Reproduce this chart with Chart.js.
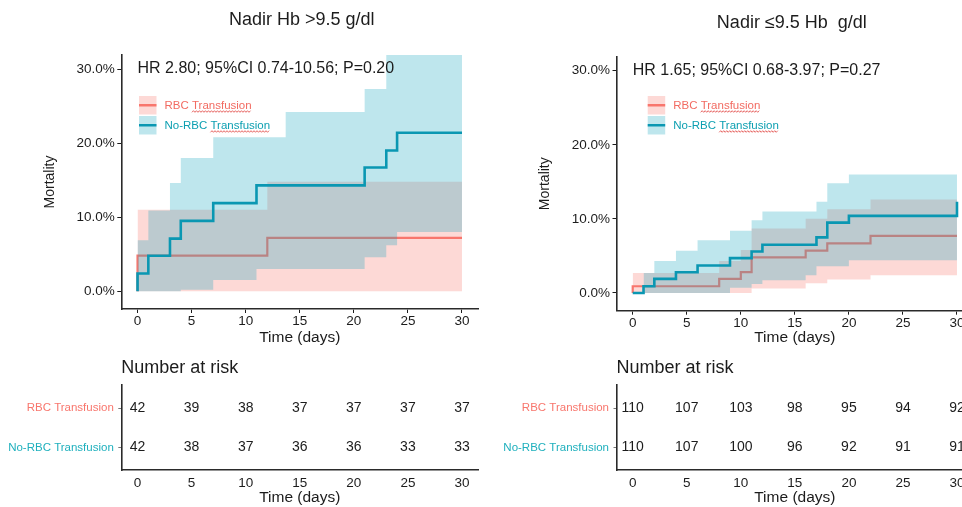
<!DOCTYPE html>
<html>
<head>
<meta charset="utf-8">
<title>Mortality by RBC transfusion and nadir Hb</title>
<script src="https://cdn.jsdelivr.net/npm/chart.js@4.4.1/dist/chart.umd.min.js"></script>
<style>
  html, body { margin: 0; padding: 0; background: #fff; overflow: hidden; }
  body { width: 962px; height: 507px; position: relative; }
  canvas { position: absolute; }
</style>
</head>
<body>
<canvas id="kmHigh" width="480" height="350" style="left:0;top:0"></canvas>
<canvas id="kmLow" width="500" height="350" style="left:480px;top:0"></canvas>
<canvas id="riskHigh" width="480" height="157" style="left:0;top:350px"></canvas>
<canvas id="riskLow" width="500" height="157" style="left:480px;top:350px"></canvas>
<script>
// Groups, axis ticks and risk-table days
const groups = ['RBC Transfusion', 'No-RBC Transfusion'];
const dayTicks = [0, 5, 10, 15, 20, 25, 30];
const mortalityTicks = [0, 10, 20, 30];
const riskDays = [0, 5, 10, 15, 20, 25, 30];

// Nadir Hb > 9.5 g/dl : cumulative mortality (%) step curves and 95% bands
const hiRbcDays = [0, 0, 12, 30];
const hiRbcMort = [0, 4.8, 7.2, 7.2];
const hiRbcUpperDays = [0, 12, 30];
const hiRbcUpper = [11.0, 14.8, 14.8];
const hiRbcLowerDays = [0, 30];
const hiRbcLower = [0, 0];

const hiNoRbcDays = [0, 0, 1, 3, 4, 7, 11, 21, 23, 24, 30];
const hiNoRbcMort = [0, 2.4, 4.8, 7.1, 9.5, 11.9, 14.3, 16.7, 19.0, 21.4, 21.4];
const hiNoRbcUpperDays = [0, 1, 3, 4, 7, 13.7, 21, 23, 30];
const hiNoRbcUpper = [6.9, 10.9, 14.6, 18.0, 20.8, 24.2, 27.3, 32.0, 32.0];
const hiNoRbcLowerDays = [0, 4, 7, 11, 21, 23, 24, 30];
const hiNoRbcLower = [0, 0.2, 1.5, 3.0, 4.6, 6.2, 8.0, 8.0];

const hiRbcRisk = [42, 39, 38, 37, 37, 37, 37];
const hiNoRbcRisk = [42, 38, 37, 36, 36, 33, 33];

// Nadir Hb <= 9.5 g/dl
const loRbcDays = [0, 0, 8, 10, 11, 16, 18, 22, 30];
const loRbcMort = [0, 0.9, 1.9, 2.8, 4.8, 5.7, 6.7, 7.7, 7.7];
const loRbcUpperDays = [0, 8, 10, 11, 16, 18, 22, 30];
const loRbcUpper = [2.7, 4.3, 5.8, 8.7, 10.0, 11.3, 12.6, 12.6];
const loRbcLowerDays = [0, 11, 16, 18, 22, 30];
const loRbcLower = [0, 0.6, 1.3, 1.8, 2.4, 2.4];

const loNoRbcDays = [0, 1, 2, 4, 6, 9, 11, 12, 17, 18, 20, 30];
const loNoRbcMort = [0, 0.9, 1.9, 2.8, 3.7, 4.7, 5.6, 6.5, 7.5, 9.5, 10.4, 12.3];
const loNoRbcUpperDays = [1, 2, 4, 6, 9, 11, 12, 17, 18, 20, 30];
const loNoRbcUpper = [2.7, 4.3, 5.7, 7.1, 8.4, 9.8, 11.0, 12.3, 14.8, 16.0, 16.0];
const loNoRbcLowerDays = [1, 9, 11, 12, 16, 17, 20, 30];
const loNoRbcLower = [0, 0.7, 1.2, 1.7, 2.4, 3.6, 4.4, 4.4];

const loRbcRisk = [110, 107, 103, 98, 95, 94, 92];
const loNoRbcRisk = [110, 107, 100, 96, 92, 91, 91];

// styling
const FONT = '"Liberation Sans", Arial, Helvetica, sans-serif';
const INK = '#1c1c1c';
const RED = '#F8766D';
const TEAL = '#0a97b2';
const RED_BAND = 'rgba(248,118,109,0.28)';
const TEAL_BAND = 'rgba(20,165,190,0.28)';
const groupLabelColors = ['#F8766D', '#1fb0bd'];
const legendTextColors = ['#f26b62', '#0c9fb1'];

const steps = (days, vals) => days.map((d, i) => ({ x: d, y: vals[i] }));

// panel title, HR annotation and inset legend
const kmText = {
  id: 'kmText',
  afterDraw(chart, args, o) {
    const { ctx, chartArea: a, scales: { x, y } } = chart;
    ctx.save();
    ctx.fillStyle = INK;
    ctx.textBaseline = 'middle';
    ctx.font = '18px ' + FONT;
    ctx.textAlign = 'center';
    ctx.fillText(o.title, (a.left + a.right) / 2 + o.titleShift, a.top - o.titleGap);
    ctx.font = '16px ' + FONT;
    ctx.textAlign = 'left';
    ctx.fillText(o.hr, x.getPixelForValue(0), y.getPixelForValue(30));

    ctx.font = '11.5px ' + FONT;
    o.legend.forEach((item, i) => {
      const left = a.left + o.legendLeft;
      const top = a.top + o.legendTop + i * 20;
      ctx.fillStyle = item.band;
      ctx.fillRect(left, top, 17.5, 18.5);
      ctx.strokeStyle = item.line;
      ctx.lineWidth = 2.5;
      ctx.beginPath();
      ctx.moveTo(left, top + 9.25);
      ctx.lineTo(left + 17.5, top + 9.25);
      ctx.stroke();
      const tx = left + 25.5, ty = top + 9.5;
      ctx.fillStyle = item.text;
      ctx.fillText(item.label, tx, ty);
      // spell-check squiggle under "Transfusion"
      const word = 'Transfusion';
      const start = tx + ctx.measureText(item.label.slice(0, item.label.indexOf(word))).width;
      const end = start + ctx.measureText(word).width;
      ctx.strokeStyle = '#e0403c';
      ctx.lineWidth = 0.8;
      ctx.beginPath();
      let up = false;
      for (let sx = start; sx <= end; sx += 1.5) {
        const sy = ty + 6 + (up ? -0.8 : 0.8);
        sx === start ? ctx.moveTo(sx, sy) : ctx.lineTo(sx, sy);
        up = !up;
      }
      ctx.stroke();
    });
    ctx.restore();
  }
};

function kmChart(id, p) {
  const line = (days, vals, color, width) => ({
    data: steps(days, vals), borderColor: color, borderWidth: width,
    stepped: 'before', pointRadius: 0, fill: false
  });
  const band = (days, vals, color, fill) => ({
    data: steps(days, vals), borderColor: 'transparent', borderWidth: 0,
    backgroundColor: color, stepped: 'before', pointRadius: 0, fill: fill
  });
  return new Chart(document.getElementById(id), {
    type: 'line',
    data: {
      // first dataset is painted last (on top)
      datasets: [
        line(p.noDays, p.noMort, TEAL, 2.6),
        band(p.noUpperDays, p.noUpper, TEAL_BAND, '+1'),
        band(p.noLowerDays, p.noLower, TEAL_BAND, false),
        line(p.rbcDays, p.rbcMort, RED, 2.2),
        band(p.rbcUpperDays, p.rbcUpper, RED_BAND, '+1'),
        band(p.rbcLowerDays, p.rbcLower, RED_BAND, false)
      ]
    },
    options: {
      responsive: false,
      animation: false,
      devicePixelRatio: 1,
      layout: { padding: { left: 0, top: p.top, right: p.right, bottom: 0 } },
      plugins: {
        legend: { display: false },
        tooltip: { enabled: false },
        kmText: {
          title: p.title, titleShift: p.titleShift, titleGap: p.titleGap, hr: p.hr,
          legendLeft: p.legendLeft, legendTop: p.legendTop,
          legend: [
            { label: groups[0], band: RED_BAND, line: RED, text: legendTextColors[0] },
            { label: groups[1], band: TEAL_BAND, line: TEAL, text: legendTextColors[1] }
          ]
        }
      },
      scales: {
        x: {
          type: 'linear', bounds: 'data', min: -1.5, max: 31.5,
          afterBuildTicks: s => { s.ticks = dayTicks.map(v => ({ value: v })); },
          afterFit: s => { s.height = p.xHeight; },
          grid: { drawOnChartArea: false, drawTicks: true, tickLength: 4, color: INK, lineWidth: 1 },
          border: { display: true, color: '#2a2a2a', width: 1.6 },
          ticks: { font: { family: FONT, size: 13.5 }, color: INK, padding: 0.5, maxRotation: 0, autoSkip: false },
          title: { display: true, text: 'Time (days)', color: INK, font: { family: FONT, size: 15.5 }, padding: { top: 0, bottom: 2.7 } }
        },
        y: {
          type: 'linear', bounds: 'data', min: -2.4, max: 31.9,
          afterBuildTicks: s => { s.ticks = mortalityTicks.map(v => ({ value: v })); },
          afterFit: s => { s.width = p.yWidth; },
          grid: { drawOnChartArea: false, drawTicks: true, tickLength: 4, color: INK, lineWidth: 1 },
          border: { display: true, color: '#2a2a2a', width: 1.6 },
          ticks: { font: { family: FONT, size: 13.5 }, color: INK, padding: 2.5, callback: v => v.toFixed(1) + '%' },
          title: { display: true, text: 'Mortality', color: INK, font: { family: FONT, size: 14 }, padding: { top: p.yTitlePad, bottom: 0 } }
        }
      }
    },
    plugins: [kmText]
  });
}

// numbers at risk printed at each risk day
const riskText = {
  id: 'riskText',
  afterDatasetsDraw(chart) {
    const { ctx, chartArea: a } = chart;
    ctx.save();
    ctx.fillStyle = INK;
    ctx.textBaseline = 'middle';
    ctx.font = '18px ' + FONT;
    ctx.textAlign = 'left';
    ctx.fillText('Number at risk', a.left, a.top - 17);
    ctx.font = '14px ' + FONT;
    ctx.textAlign = 'center';
    chart.data.datasets.forEach((ds, i) => {
      chart.getDatasetMeta(i).data.forEach((pt, j) => {
        ctx.fillText(String(ds.counts[j]), pt.x, pt.y);
      });
    });
    ctx.restore();
  }
};

function riskChart(id, p) {
  const rowOf = i => groups.length - i;
  return new Chart(document.getElementById(id), {
    type: 'scatter',
    data: {
      datasets: p.counts.map((c, i) => ({
        data: riskDays.map(d => ({ x: d, y: rowOf(i) })),
        counts: c, pointRadius: 0, showLine: false
      }))
    },
    options: {
      responsive: false,
      animation: false,
      devicePixelRatio: 1,
      layout: { padding: { left: 0, top: 35, right: p.right, bottom: 0 } },
      plugins: { legend: { display: false }, tooltip: { enabled: false } },
      scales: {
        x: {
          type: 'linear', bounds: 'data', min: -1.5, max: 31.5,
          afterBuildTicks: s => { s.ticks = dayTicks.map(v => ({ value: v })); },
          afterFit: s => { s.height = 37; },
          grid: { display: true, drawOnChartArea: false, drawTicks: false },
          border: { display: true, color: '#2a2a2a', width: 1.6 },
          ticks: { font: { family: FONT, size: 13.5 }, color: INK, padding: 5, maxRotation: 0, autoSkip: false },
          title: { display: true, text: 'Time (days)', color: INK, font: { family: FONT, size: 15.5 }, padding: { top: 0, bottom: 0 } }
        },
        y: {
          type: 'linear', bounds: 'data', min: 0.43, max: 2.59,
          afterBuildTicks: s => { s.ticks = groups.map((g, i) => ({ value: rowOf(i) })); },
          afterFit: s => { s.width = p.yWidth; },
          grid: { drawOnChartArea: false, drawTicks: true, tickLength: 3, color: '#777', lineWidth: 1 },
          border: { display: true, color: '#2a2a2a', width: 1.6 },
          ticks: {
            font: { family: FONT, size: 11.5 }, padding: 4.5,
            callback: v => groups[groups.length - v],
            color: c => groupLabelColors[groups.length - c.tick.value]
          }
        }
      }
    },
    plugins: [riskText]
  });
}

kmChart('kmHigh', {
  title: 'Nadir Hb >9.5 g/dl', titleShift: 2, titleGap: 35,
  hr: 'HR 2.80; 95%CI 0.74-10.56; P=0.20',
  top: 55, right: 1.8, xHeight: 41, yWidth: 121.3, yTitlePad: 41.6,
  legendLeft: 17.7, legendTop: 41,
  rbcDays: hiRbcDays, rbcMort: hiRbcMort,
  rbcUpperDays: hiRbcUpperDays, rbcUpper: hiRbcUpper,
  rbcLowerDays: hiRbcLowerDays, rbcLower: hiRbcLower,
  noDays: hiNoRbcDays, noMort: hiNoRbcMort,
  noUpperDays: hiNoRbcUpperDays, noUpper: hiNoRbcUpper,
  noLowerDays: hiNoRbcLowerDays, noLower: hiNoRbcLower
});

kmChart('kmLow', {
  title: 'Nadir \u22649.5 Hb  g/dl', titleShift: -3, titleGap: 33.7,
  hr: 'HR 1.65; 95%CI 0.68-3.97; P=0.27',
  top: 56.7, right: 6.8, xHeight: 39.3, yWidth: 136.5, yTitlePad: 56.6,
  legendLeft: 31.2, legendTop: 39.3,
  rbcDays: loRbcDays, rbcMort: loRbcMort,
  rbcUpperDays: loRbcUpperDays, rbcUpper: loRbcUpper,
  rbcLowerDays: loRbcLowerDays, rbcLower: loRbcLower,
  noDays: loNoRbcDays, noMort: loNoRbcMort,
  noUpperDays: loNoRbcUpperDays, noUpper: loNoRbcUpper,
  noLowerDays: loNoRbcLowerDays, noLower: loNoRbcLower
});

riskChart('riskHigh', { counts: [hiRbcRisk, hiNoRbcRisk], right: 1.8, yWidth: 121.3 });
riskChart('riskLow', { counts: [loRbcRisk, loNoRbcRisk], right: 6.8, yWidth: 136.5 });
</script>
</body>
</html>
